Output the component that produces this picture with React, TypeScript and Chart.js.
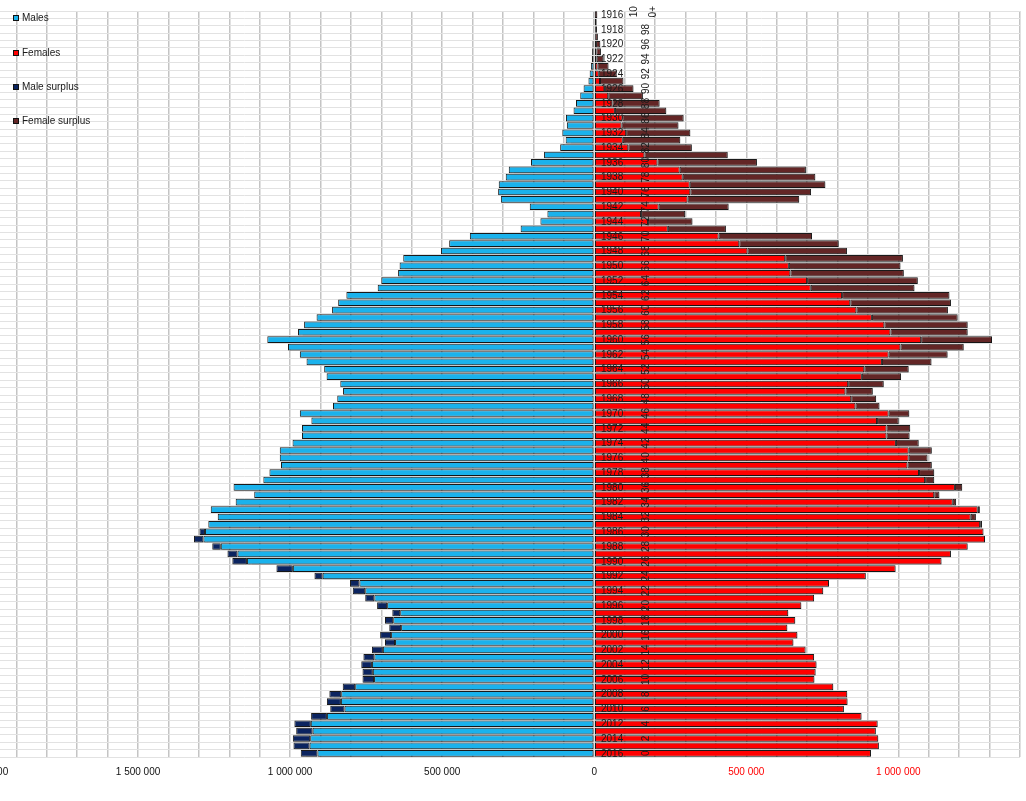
import React, { useEffect, useRef } from 'react';
import { Chart, registerables } from 'chart.js';
Chart.register(...registerables);

// Birth years (categories, top to bottom)
const YEARS = [
  1916, 1917, 1918, 1919, 1920, 1921, 1922, 1923, 1924, 1925,
  1926, 1927, 1928, 1929, 1930, 1931, 1932, 1933, 1934, 1935,
  1936, 1937, 1938, 1939, 1940, 1941, 1942, 1943, 1944, 1945,
  1946, 1947, 1948, 1949, 1950, 1951, 1952, 1953, 1954, 1955,
  1956, 1957, 1958, 1959, 1960, 1961, 1962, 1963, 1964, 1965,
  1966, 1967, 1968, 1969, 1970, 1971, 1972, 1973, 1974, 1975,
  1976, 1977, 1978, 1979, 1980, 1981, 1982, 1983, 1984, 1985,
  1986, 1987, 1988, 1989, 1990, 1991, 1992, 1993, 1994, 1995,
  1996, 1997, 1998, 1999, 2000, 2001, 2002, 2003, 2004, 2005,
  2006, 2007, 2008, 2009, 2010, 2011, 2012, 2013, 2014, 2015,
  2016,
];

// Population in thousands
const MALES_K = [
  2, 2, 3, 3, 6, 7, 8, 11, 15, 19,
  35, 46, 60, 68, 93, 90, 105, 94, 112, 165,
  208, 281, 291, 314, 316, 307, 212, 154, 177, 242,
  409, 477, 504, 628, 640, 645, 700, 712, 815, 842,
  862, 913, 954, 974, 1075, 1007, 968, 946, 888, 880,
  835, 826, 845, 859, 968, 930, 961, 961, 992, 1034,
  1034, 1030, 1068, 1088, 1186, 1118, 1179, 1261, 1238, 1269,
  1298, 1316, 1256, 1206, 1190, 1045, 920, 803, 794, 753,
  714, 664, 688, 674, 704, 688, 731, 759, 766, 762,
  762, 827, 871, 879, 868, 931, 986, 980, 991, 989,
  965,
];

const FEMALES_K = [
  10, 8, 9, 12, 20, 22, 30, 47, 74, 96,
  129, 160, 215, 237, 294, 277, 316, 283, 321, 439,
  535, 696, 727, 760, 713, 674, 442, 299, 323, 433,
  716, 804, 831, 1015, 1007, 1018, 1064, 1053, 1168, 1173,
  1163, 1195, 1228, 1228, 1308, 1215, 1162, 1109, 1034, 1009,
  952, 916, 927, 938, 1036, 1001, 1039, 1037, 1067, 1110,
  1096, 1110, 1118, 1118, 1210, 1135, 1190, 1268, 1255, 1275,
  1280, 1285, 1228, 1173, 1142, 991, 893, 772, 753, 723,
  681, 638, 661, 635, 668, 655, 695, 723, 731, 728,
  724, 786, 832, 833, 821, 879, 932, 926, 934, 936,
  910,
];

const CENSUS_YEAR = 2016;
const LEGEND_ITEMS = [
  { label: 'Males', color: '#1AB2EC' },
  { label: 'Females', color: '#FF0000' },
  { label: 'Male surplus', color: '#0B2460' },
  { label: 'Female surplus', color: '#632626' },
];

const OFFSET_X = 30;
const W = 1056;
const H = 801;
const FONT = 'Liberation Sans';

function fmt(v: number): string {
  return String(v).replace(/\B(?=(\d{3})+(?!\d))/g, ' ');
}

export default function App() {
  const ref = useRef<HTMLCanvasElement>(null);
  useEffect(() => {
    if (!ref.current) return;
    const males = MALES_K.map((v) => v * 1000);
    const females = FEMALES_K.map((v) => v * 1000);
    const common = males.map((m, i) => Math.min(m, females[i]));
    const maleSurplus = males.map((m, i) => Math.max(m - females[i], 0));
    const femaleSurplus = females.map((f, i) => Math.max(f - males[i], 0));

    const shadowPlugin = {
      id: 'shadow',
      beforeDatasetsDraw(chart: any) {
        const ctx = chart.ctx;
        ctx.save();
        ctx.shadowColor = 'rgba(0,0,0,0.18)';
        ctx.shadowOffsetX = 1.5;
        ctx.shadowOffsetY = 1.5;
        ctx.shadowBlur = 1;
      },
      afterDatasetsDraw(chart: any) {
        chart.ctx.restore();
      },
    };

    const labelsPlugin = {
      id: 'rowLabels',
      afterDraw(chart: any) {
        const ctx = chart.ctx;
        const y = chart.scales.y;
        ctx.save();
        ctx.fillStyle = '#1a1a1a';
        ctx.font = `10px "${FONT}"`;
        ctx.textBaseline = 'middle';
        YEARS.forEach((yr, i) => {
          if (yr % 2 !== 0) return;
          const py = y.getPixelForValue(i);
          ctx.textAlign = 'left';
          ctx.fillText(String(yr), OFFSET_X + 601, py + 0.5);
          const age = CENSUS_YEAR - yr;
          if (age >= 100) {
            const lines = ['10', '0+'];
            const xs = [634, 653];
            lines.forEach((t, k) => {
              ctx.save();
              ctx.translate(OFFSET_X + xs[k], py - 3);
              ctx.rotate(-Math.PI / 2);
              ctx.textAlign = 'center';
              ctx.fillText(t, 0, 0);
              ctx.restore();
            });
          } else {
            ctx.save();
            ctx.translate(OFFSET_X + 646, py);
            ctx.rotate(-Math.PI / 2);
            ctx.textAlign = 'center';
            ctx.fillText(String(age), 0, 0);
            ctx.restore();
          }
        });
        // legend
        const ys = [18, 53, 87, 121];
        LEGEND_ITEMS.forEach((it, k) => {
          ctx.fillStyle = it.color;
          ctx.fillRect(OFFSET_X + 13, ys[k] - 3, 6, 6);
          ctx.strokeStyle = '#111';
          ctx.lineWidth = 1;
          ctx.strokeRect(OFFSET_X + 13.5, ys[k] - 2.5, 5, 5);
          ctx.fillStyle = '#1a1a1a';
          ctx.textAlign = 'left';
          ctx.fillText(it.label, OFFSET_X + 22, ys[k] + 0.5);
        });
        ctx.restore();
      },
    };

    const barCommon = {
      borderWidth: 1,
      borderColor: '#1a1a1a',
      barPercentage: 0.9,
      categoryPercentage: 1,
      borderSkipped: false as any,
    };

    const chart = new Chart(ref.current, {
      type: 'bar',
      data: {
        labels: YEARS.map(String),
        datasets: [
          { label: 'Males', data: common.map((v) => -v), backgroundColor: LEGEND_ITEMS[0].color, stack: 's', ...barCommon },
          { label: 'Male surplus', data: maleSurplus.map((v) => -v), backgroundColor: LEGEND_ITEMS[2].color, stack: 's', ...barCommon },
          { label: 'Females', data: common, backgroundColor: LEGEND_ITEMS[1].color, stack: 's', ...barCommon },
          { label: 'Female surplus', data: femaleSurplus, backgroundColor: LEGEND_ITEMS[3].color, stack: 's', ...barCommon },
        ],
      },
      options: {
        indexAxis: 'y',
        animation: false,
        responsive: false,
        layout: { padding: { left: 16, right: 6, top: 11, bottom: 0 } },
        plugins: { legend: { display: false }, tooltip: { enabled: false } },
        scales: {
          x: {
            type: 'linear',
            min: -2000000,
            max: 1400000,
            stacked: true,
            ticks: {
              stepSize: 100000,
              autoSkip: false,
              maxRotation: 0,
              padding: 9,
              font: { family: FONT, size: 10 },
              color: (c: any) => (c.tick && c.tick.value > 0 ? '#ff0000' : '#111'),
              callback: (v: any) => (Number(v) % 500000 === 0 ? fmt(Math.abs(Number(v))) : ''),
            },
            grid: { color: '#c4c4c4', lineWidth: 1.5, drawTicks: false },
            border: { display: false },
            afterFit: (s: any) => {
              s.height = 44;
              s.paddingLeft = 0;
              s.paddingRight = 0;
            },
          },
          y: {
            stacked: true,
            ticks: { display: false },
            grid: { color: '#e2e2e2', lineWidth: 1, drawTicks: false, offset: true },
            border: { display: false },
            afterFit: (s: any) => {
              s.width = 0;
              s.paddingTop = 0;
              s.paddingBottom = 0;
            },
          },
        },
      } as any,
      plugins: [shadowPlugin, labelsPlugin],
    });
    return () => chart.destroy();
  }, []);

  return (
    <div style={{ position: 'fixed', left: -OFFSET_X, top: 0, width: W, height: H, background: '#fff', overflow: 'hidden' }}>
      <canvas ref={ref} width={W} height={H} style={{ display: 'block', width: W, height: H }} />
    </div>
  );
}
